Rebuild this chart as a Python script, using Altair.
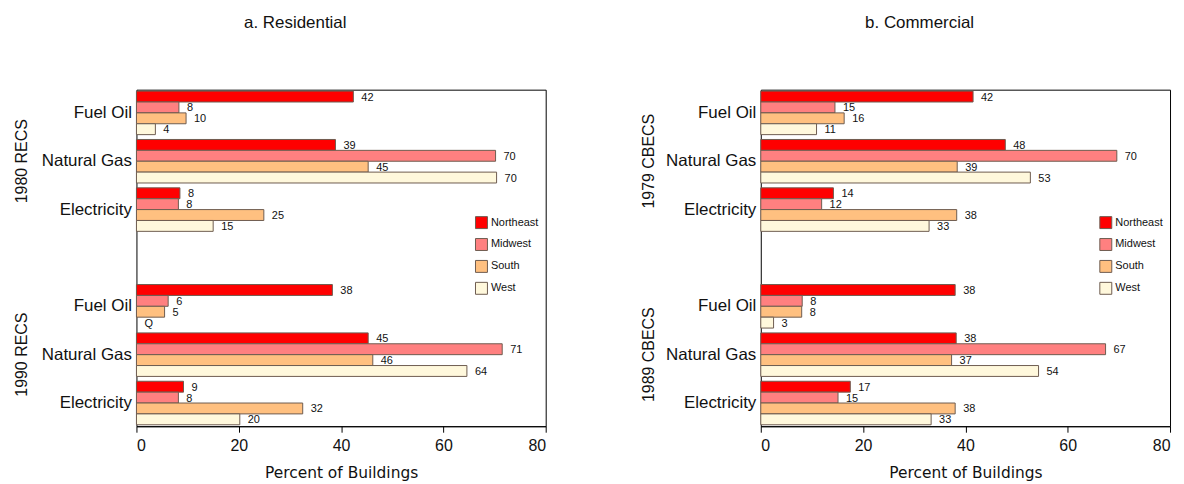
import altair as alt
import pandas as pd

regions = ["Northeast", "Midwest", "South", "West"]
fuels = ["Fuel Oil", "Natural Gas", "Electricity"]
colors = ["#FF0000", "#FF8080", "#FFC080", "#FFF8DC"]

# Residential
res_surveys = ["1980 RECS", "1990 RECS"]
res_1980_vals = {
    "Fuel Oil": [42.4, 8.3, 9.7, 3.7],
    "Natural Gas": [38.9, 70.2, 45.3, 70.4],
    "Electricity": [8.5, 8.2, 24.9, 15.0],
}
res_1980_labels = {
    "Fuel Oil": ["42", "8", "10", "4"],
    "Natural Gas": ["39", "70", "45", "70"],
    "Electricity": ["8", "8", "25", "15"],
}
res_1990_vals = {
    "Fuel Oil": [38.3, 6.2, 5.5, 0.0],
    "Natural Gas": [45.3, 71.5, 46.2, 64.6],
    "Electricity": [9.2, 8.2, 32.5, 20.2],
}
res_1990_labels = {
    "Fuel Oil": ["38", "6", "5", "Q"],
    "Natural Gas": ["45", "71", "46", "64"],
    "Electricity": ["9", "8", "32", "20"],
}

# Commercial
com_surveys = ["1979 CBECS", "1989 CBECS"]
com_1979_vals = {
    "Fuel Oil": [41.5, 14.5, 16.3, 10.9],
    "Natural Gas": [47.8, 69.6, 38.4, 52.7],
    "Electricity": [14.2, 11.9, 38.3, 32.9],
}
com_1979_labels = {
    "Fuel Oil": ["42", "15", "16", "11"],
    "Natural Gas": ["48", "70", "39", "53"],
    "Electricity": ["14", "12", "38", "33"],
}
com_1989_vals = {
    "Fuel Oil": [38.0, 8.1, 8.0, 2.5],
    "Natural Gas": [38.2, 67.4, 37.3, 54.3],
    "Electricity": [17.5, 15.1, 38.0, 33.3],
}
com_1989_labels = {
    "Fuel Oil": ["38", "8", "8", "3"],
    "Natural Gas": ["38", "67", "37", "54"],
    "Electricity": ["17", "15", "38", "33"],
}

FONT = "Liberation Sans, Arial, sans-serif"
NARROW = "Liberation Sans Narrow, Arial Narrow, Liberation Sans, sans-serif"
WIDE = "DejaVu Sans, Verdana, sans-serif"


def build_df(surveys, vals_list, labels_list):
    rows = []
    for s, vals, labs in zip(surveys, vals_list, labels_list):
        for f in fuels:
            for r, v, l in zip(regions, vals[f], labs[f]):
                rows.append({"survey": s, "fuel": f, "grp": f"{s}|{f}",
                             "region": r, "v": v, "label": l})
    return pd.DataFrame(rows)


def panel(title, surveys, vals_list, labels_list, survey_x):
    df = build_df(surveys, vals_list, labels_list)
    domain = [f"{surveys[0]}|{f}" for f in fuels] + ["gap"] + [f"{surveys[1]}|{f}" for f in fuels]
    yenc = alt.Y("grp:N", scale=alt.Scale(domain=domain, paddingInner=0.1, paddingOuter=0.03),
                 axis=alt.Axis(title=None, ticks=False, domain=False, labelFontSize=17,
                               labelFont=FONT, labelColor="#111", labelPadding=5,
                               labelExpr="indexof(datum.value,'|')>=0 ? split(datum.value,'|')[1] : ''"))
    yoff = alt.YOffset("region:N", sort=regions, scale=alt.Scale(domain=regions, paddingInner=0, paddingOuter=0))
    xenc = alt.X("v:Q", scale=alt.Scale(domain=[0, 80], nice=False),
                 axis=alt.Axis(title="Percent of Buildings", values=[0, 20, 40, 60, 80], grid=False,
                               tickSize=6, tickColor="black", domainColor="black", labelFontSize=16,
                               labelFont=FONT, labelColor="#111", labelPadding=5,
                               titleFontSize=15.5, titleFont=WIDE, titleFontWeight="normal",
                               titleColor="#111", titlePadding=12))
    base = alt.Chart(df)
    bars = base.mark_bar(stroke="#6e5c50", strokeWidth=1).encode(
        x=xenc, y=yenc, yOffset=yoff,
        color=alt.Color("region:N", sort=regions,
                        scale=alt.Scale(domain=regions, range=colors),
                        legend=alt.Legend(title=None, orient="none", legendX=340, legendY=127,
                                          symbolType="square", symbolSize=144,
                                          symbolStrokeColor="#6e5c50", symbolStrokeWidth=1,
                                          labelFontSize=11, labelFont=FONT, labelColor="#111",
                                          rowPadding=5, labelOffset=3)),
    ).transform_filter("datum.v > 0")
    texts = base.mark_text(align="left", baseline="middle", dx=8, dy=1, fontSize=11,
                           font=FONT, color="#111").encode(
        x="v:Q", y=alt.Y("grp:N"), yOffset=alt.YOffset("region:N", sort=regions), text="label:N")
    sdf = pd.DataFrame({"survey": surveys, "grp": [f"{s}|Natural Gas" for s in surveys]})
    slabels = alt.Chart(sdf).mark_text(angle=270, align="center", baseline="middle", fontSize=16,
                                       font=FONT, color="#111").encode(
        x=alt.value(survey_x), y=alt.Y("grp:N"), text="survey:N")
    return alt.layer(bars, texts, slabels).properties(
        width=411, height=338,
        title=alt.TitleParams(title, fontSize=17, font=NARROW, fontWeight="normal",
                              color="#111", offset=58, anchor="middle", dx=-46),
    )


left = panel("a. Residential", res_surveys, [res_1980_vals, res_1990_vals],
             [res_1980_labels, res_1990_labels], -115)
right = panel("b. Commercial", com_surveys, [com_1979_vals, com_1989_vals],
              [com_1979_labels, com_1989_labels], -112)

chart = alt.hconcat(left, right, spacing=94).resolve_scale(color="independent").configure(
    padding={"left": 5, "top": 4, "right": 5, "bottom": 2}, background="white"
).configure_view(stroke="black", strokeWidth=1)

chart.save("out.html", embed_options={"renderer": "svg", "actions": False})
